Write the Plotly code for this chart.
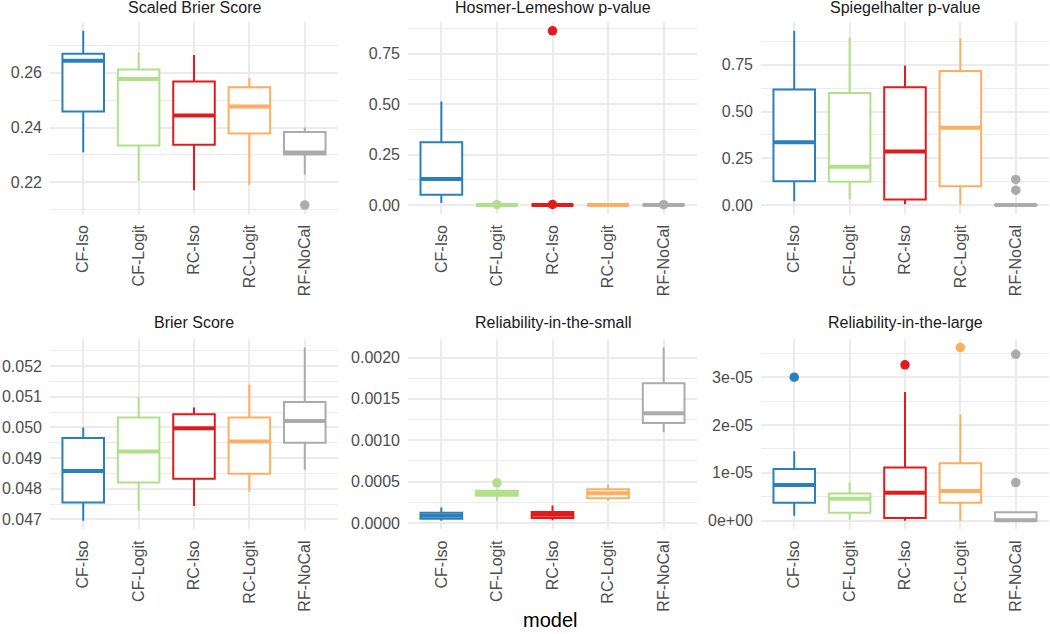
import plotly.graph_objects as go

MODELS = ["CF-Iso", "CF-Logit", "RC-Iso", "RC-Logit", "RF-NoCal"]
COLORS = ["#2B7FBA", "#B2DF8A", "#E31A1C", "#FDAE61", "#ABABAB"]

# Scaled Brier Score
sbs_lower = [0.2310, 0.2205, 0.2171, 0.2190, 0.2229]
sbs_q1 = [0.2459, 0.2335, 0.2337, 0.2378, 0.2302]
sbs_med = [0.2644, 0.2577, 0.2444, 0.2477, 0.2309]
sbs_q3 = [0.2669, 0.2612, 0.2568, 0.2547, 0.2384]
sbs_upper = [0.2753, 0.2674, 0.2665, 0.2581, 0.2400]
sbs_out = [[], [], [], [], [0.2117]]

# Hosmer-Lemeshow p-value
hl_lower = [0.010, 0.0, 0.0, 0.0, 0.0]
hl_q1 = [0.051, 0.0, 0.0, 0.0, 0.0]
hl_med = [0.130, 0.0, 0.0, 0.0, 0.0]
hl_q3 = [0.312, 0.0, 0.0, 0.0, 0.0]
hl_upper = [0.514, 0.0, 0.0, 0.0, 0.0]
hl_out = [[], [0.002], [0.003, 0.864], [], [0.002]]

# Spiegelhalter p-value
sp_lower = [0.021, 0.030, 0.004, 0.002, 0.0]
sp_q1 = [0.128, 0.125, 0.030, 0.101, 0.0]
sp_med = [0.336, 0.205, 0.286, 0.413, 0.0]
sp_q3 = [0.617, 0.599, 0.629, 0.716, 0.002]
sp_upper = [0.931, 0.896, 0.746, 0.892, 0.004]
sp_out = [[], [], [], [], [0.080, 0.137]]

# Brier Score
br_lower = [0.04696, 0.04728, 0.04744, 0.04790, 0.04862]
br_q1 = [0.04755, 0.04820, 0.04833, 0.04849, 0.04950]
br_med = [0.04858, 0.04921, 0.04997, 0.04954, 0.05021]
br_q3 = [0.04965, 0.05032, 0.05043, 0.05032, 0.05083]
br_upper = [0.05000, 0.05098, 0.05065, 0.05140, 0.05260]
br_out = [[], [], [], [], []]

# Reliability-in-the-small
rs_lower = [0.000028, 0.000270, 0.000032, 0.000268, 0.00110]
rs_q1 = [0.000052, 0.000330, 0.000060, 0.000300, 0.001207]
rs_med = [0.000088, 0.000360, 0.000100, 0.000360, 0.001327]
rs_q3 = [0.000124, 0.000390, 0.000132, 0.000408, 0.00169]
rs_upper = [0.000188, 0.000410, 0.000212, 0.000460, 0.00212]
rs_out = [[], [0.000485], [], [], []]

# Reliability-in-the-large
rl_lower = [1.04e-6, 2.0e-7, 0.0, 0.0, 0.0]
rl_q1 = [3.74e-6, 1.66e-6, 5.6e-7, 3.74e-6, 0.0]
rl_med = [7.48e-6, 4.57e-6, 5.82e-6, 6.23e-6, 1.0e-7]
rl_q3 = [1.08e-5, 5.69e-6, 1.11e-5, 1.20e-5, 1.74e-6]
rl_upper = [1.454e-5, 7.97e-6, 2.69e-5, 2.22e-5, 1.74e-6]
rl_out = [[3.0e-5], [], [3.26e-5], [3.62e-5], [7.97e-6, 3.48e-5]]

TITLES = ["Scaled Brier Score", "Hosmer-Lemeshow p-value", "Spiegelhalter p-value",
          "Brier Score", "Reliability-in-the-small", "Reliability-in-the-large"]

MAJOR = [
    ([0.22, 0.24, 0.26], ["0.22", "0.24", "0.26"], [0.21, 0.23, 0.25, 0.27]),
    ([0, 0.25, 0.5, 0.75], ["0.00", "0.25", "0.50", "0.75"], [0.125, 0.375, 0.625, 0.875]),
    ([0, 0.25, 0.5, 0.75], ["0.00", "0.25", "0.50", "0.75"], [0.125, 0.375, 0.625, 0.875]),
    ([0.047, 0.048, 0.049, 0.050, 0.051, 0.052],
     ["0.047", "0.048", "0.049", "0.050", "0.051", "0.052"],
     [0.0475, 0.0485, 0.0495, 0.0505, 0.0515, 0.0525]),
    ([0, 0.0005, 0.001, 0.0015, 0.002], ["0.0000", "0.0005", "0.0010", "0.0015", "0.0020"],
     [0.00025, 0.00075, 0.00125, 0.00175]),
    ([0, 1e-5, 2e-5, 3e-5], ["0e+00", "1e-05", "2e-05", "3e-05"],
     [5e-6, 1.5e-5, 2.5e-5, 3.5e-5]),
]

PANELS = [
    (sbs_lower, sbs_q1, sbs_med, sbs_q3, sbs_upper, sbs_out),
    (hl_lower, hl_q1, hl_med, hl_q3, hl_upper, hl_out),
    (sp_lower, sp_q1, sp_med, sp_q3, sp_upper, sp_out),
    (br_lower, br_q1, br_med, br_q3, br_upper, br_out),
    (rs_lower, rs_q1, rs_med, rs_q3, rs_upper, rs_out),
    (rl_lower, rl_q1, rl_med, rl_q3, rl_upper, rl_out),
]

W, H = 1050, 634
COLS_PX = [(50, 338), (408, 697), (761, 1049)]
ROWS_PX = [(22.2, 214.5), (340, 531)]
GRID = "#EBEBEB"
FONT = "Liberation Sans, Arial, Helvetica, sans-serif"
BOXW = 0.75

fig = go.Figure()
layout = dict(
    width=W, height=H, margin=dict(l=0, r=0, t=0, b=0),
    paper_bgcolor="white", plot_bgcolor="white", showlegend=False,
    font=dict(family=FONT, size=16, color="#4D4D4D"),
)
annotations = []

for k, (lower, q1, med, q3, upper, outs) in enumerate(PANELS):
    r, c = divmod(k, 3)
    ax = "" if k == 0 else str(k + 1)
    xref, yref = "x" + ax, "y" + ax
    x0, x1 = COLS_PX[c]
    y0, y1 = ROWS_PX[r]
    allv = list(lower) + list(upper) + [v for o in outs for v in o]
    lo, hi = min(allv), max(allv)
    pad = 0.05 * (hi - lo)
    tv, tt, mv = MAJOR[k]
    layout["xaxis" + ax] = dict(
        domain=[x0 / W, x1 / W], anchor=yref, range=[-0.6, 4.6],
        tickvals=list(range(len(MODELS))), ticktext=MODELS, tickangle=-90,
        showgrid=True, gridcolor=GRID, gridwidth=2, zeroline=False, showline=False,
        ticks="", ticklabelstandoff=7, tickfont=dict(size=16, color="#4D4D4D"),
    )
    layout["yaxis" + ax] = dict(
        domain=[1 - y1 / H, 1 - y0 / H], anchor=xref, range=[lo - pad, hi + pad],
        tickvals=tv, ticktext=tt, showgrid=True, gridcolor=GRID, gridwidth=2,
        minor=dict(tickvals=mv, showgrid=True, gridcolor=GRID, gridwidth=1),
        zeroline=False, showline=False, ticks="", ticklabelstandoff=7,
        tickfont=dict(size=16, color="#4D4D4D"),
    )
    for i, m in enumerate(MODELS):
        col = COLORS[i]
        fig.add_trace(go.Box(
            x=[i], q1=[q1[i]], median=[med[i]], q3=[q3[i]],
            lowerfence=[lower[i]], upperfence=[upper[i]],
            width=BOXW, whiskerwidth=0, boxpoints=False,
            line=dict(color=col, width=2), fillcolor="white",
            xaxis=xref, yaxis=yref, name=m, hoverinfo="skip",
        ))
        fig.add_trace(go.Scatter(
            x=[i - BOXW / 2, i + BOXW / 2], y=[med[i], med[i]], mode="lines",
            line=dict(color=col, width=4), xaxis=xref, yaxis=yref, hoverinfo="skip",
        ))
        if outs[i]:
            fig.add_trace(go.Scatter(
                x=[i] * len(outs[i]), y=outs[i], mode="markers",
                marker=dict(color=col, size=9.5), xaxis=xref, yaxis=yref, hoverinfo="skip",
            ))
    ty = 8 if r == 0 else 324
    annotations.append(dict(
        text=TITLES[k], x=(x0 + x1) / 2 / W, y=1 - ty / H, xref="paper", yref="paper",
        xanchor="center", yanchor="middle", showarrow=False,
        font=dict(size=16, color="#1A1A1A", family=FONT),
    ))

annotations.append(dict(
    text="model", x=549.5 / W, y=1 - 622 / H, xref="paper", yref="paper",
    xanchor="center", yanchor="middle", showarrow=False,
    font=dict(size=20, color="#000000", family=FONT),
))
layout["annotations"] = annotations
fig.update_layout(**layout)

fig.write_html("out.html", config={"displayModeBar": False},
               post_script="document.body.style.margin='0';")
